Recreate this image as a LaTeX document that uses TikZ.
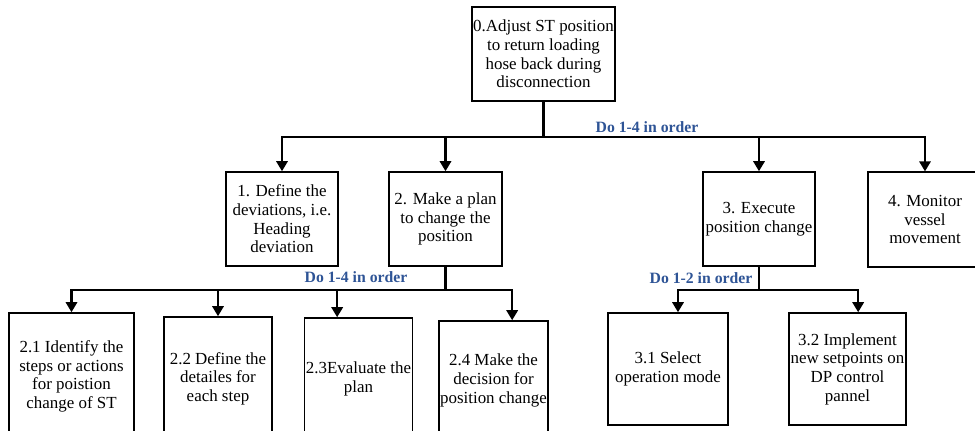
\documentclass[tikz,border=0pt]{standalone}
\usepackage{fontspec}
\setmainfont{Liberation Serif}
\usetikzlibrary{arrows.meta}
\definecolor{orderblue}{RGB}{46,84,150}

\begin{document}
\begin{tikzpicture}[x=0.75pt, y=-0.75pt, font=\fontsize{12.7}{14}\selectfont,
  box/.style={draw, line width=1.2pt, fill=white, align=center, inner sep=1pt},
  link/.style={line width=1.6pt, -{Triangle[width=8.5pt,length=7.5pt]}},
  stem/.style={line width=2pt},
  order/.style={text=orderblue, font=\fontsize{11.8}{14}\selectfont\bfseries}]

\useasboundingbox (0,0) rectangle (975,430);
\clip (0,0) rectangle (975,430);
\fill[white] (0,0) rectangle (975,430);

\node[box, minimum width=107.25pt, minimum height=70.5pt] (n0) at (543.5,54) {0.Adjust ST position\\to return loading\\hose back during\\disconnection};

\node[box, minimum width=84pt, minimum height=70.5pt] (n1) at (282,219) {1. Define the\\deviations, i.e.\\Heading\\deviation};
\node[box, minimum width=84.75pt, minimum height=70.5pt] (n2) at (445.5,219) {2. Make a plan\\to change the\\position};
\node[box, minimum width=84pt, minimum height=70.5pt] (n3) at (759,219) {3. Execute\\position change};
\node[box, minimum width=85.5pt, minimum height=71pt] (n4) at (925,219.5) {4. Monitor\\vessel\\movement};

\node[box, minimum width=93.75pt, minimum height=95.25pt] (n21) at (71.5,376.5) {2.1 Identify the\\steps or actions\\for poistion\\change of ST};
\node[box, minimum width=81pt, minimum height=92.25pt] (n22) at (218,378.5) {2.2 Define the\\detailes for\\each step};
\node[box, minimum width=80.25pt, minimum height=91.5pt] (n23) at (358.5,379) {2.3Evaluate the\\plan};
\node[box, minimum width=81.75pt, minimum height=89.25pt] (n24) at (493.5,380.5) {2.4 Make the\\decision for\\position change};

\node[box, minimum width=90pt, minimum height=84pt] (n31) at (668,369) {3.1 Select\\operation mode};
\node[box, minimum width=86.25pt, minimum height=84pt] (n32) at (847.5,369) {3.2 Implement\\new setpoints on\\DP control\\pannel};

\node[order] (ord0) at (647,127) {Do 1-4 in order};
\node[order] (ord2) at (356,277) {Do 1-4 in order};
\node[order] (ord3) at (701,278) {Do 1-2 in order};

\coordinate (j0) at (543.5,137);
\coordinate (j2) at (445.5,290);
\coordinate (j3) at (759,290);

\draw[stem] (n0.south) -- (j0);
\draw[link] (j0) -| (n1.north);
\draw[link] (j0) -| (n2.north);
\draw[link] (j0) -| (n3.north);
\draw[link] (j0) -| (n4.north);

\draw[stem] (n2.south) -- (j2);
\draw[link] (j2) -| (n21.north);
\draw[link] (j2) -| (n22.north);
\draw[link] (j2) -| ([xshift=-16pt]n23.north);
\draw[link] (j2) -| ([xshift=14pt]n24.north);

\draw[stem] (n3.south) -- (j3);
\draw[link] (j3) -| ([xshift=7.5pt]n31.north);
\draw[link] (j3) -| ([xshift=8pt]n32.north);

\end{tikzpicture}
\end{document}
